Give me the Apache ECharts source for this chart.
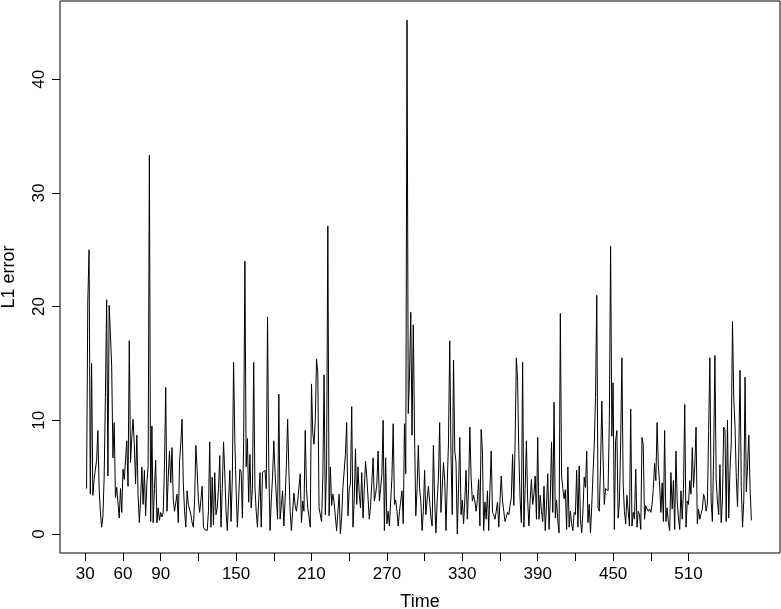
<!DOCTYPE html>
<html>
<head>
<meta charset="utf-8">
<script src="https://cdn.jsdelivr.net/npm/echarts@6/dist/echarts.min.js"></script>
<style>
html,body{margin:0;padding:0;background:#fff;}
#chart{width:781px;height:609px;}
</style>
</head>
<body>
<div id="chart"></div>
<script>
// first time index of the series
var startTime = 31;
// L1 error values for times 31..560
var l1Error = [
 4.0, 20.5, 25.0, 3.5, 15.0, 3.4, 4.8, 4.7, 6.5, 9.1,
 4.0, 2.0, 0.6, 1.5, 5.0, 12.0, 20.6, 5.1, 20.1, 17.5,
 14.7, 6.7, 9.8, 3.2, 4.1, 4.1, 1.4, 4.0, 1.9, 5.7,
 4.8, 6.5, 8.2, 4.2, 17.0, 6.3, 8.5, 10.1, 7.9, 4.4,
 8.7, 3.5, 1.0, 3.0, 5.9, 2.6, 5.6, 1.6, 4.5, 6.0,
 33.3, 1.1, 9.5, 1.0, 4.0, 6.5, 1.0, 2.3, 1.2, 1.9,
 1.5, 1.9, 6.0, 12.9, 2.0, 5.0, 7.3, 4.5, 7.6, 3.0,
 2.0, 1.9, 3.5, 1.0, 6.4, 8.0, 10.1, 4.4, 2.0, 0.6,
 3.8, 2.6, 2.6, 1.7, 1.0, 0.6, 3.0, 7.8, 5.6, 3.0,
 1.9, 3.0, 4.2, 0.6, 0.4, 0.5, 0.3, 2.0, 8.1, 0.6,
 5.0, 0.8, 5.4, 1.7, 2.3, 4.0, 6.9, 0.6, 4.0, 8.1,
 5.3, 2.0, 0.3, 3.0, 5.6, 1.1, 5.0, 15.1, 8.2, 4.0,
 0.6, 3.0, 5.7, 5.5, 1.4, 8.0, 24.0, 5.9, 8.4, 2.8,
 7.0, 2.3, 4.0, 15.1, 4.1, 2.0, 0.6, 3.0, 5.4, 0.6,
 5.4, 5.5, 5.6, 4.0, 19.1, 6.0, 0.3, 3.0, 5.0, 8.2,
 5.4, 5.3, 1.3, 12.3, 1.3, 2.5, 3.8, 0.7, 3.0, 6.0,
 10.1, 5.6, 2.0, 0.3, 2.0, 3.6, 2.5, 2.0, 2.9, 2.9,
 5.3, 1.0, 2.9, 2.0, 9.1, 4.0, 2.3, 1.5, 0.6, 13.2,
 8.9, 7.9, 10.0, 15.4, 14.2, 2.3, 2.2, 1.1, 5.0, 14.0,
 1.7, 6.0, 27.1, 1.6, 5.9, 2.5, 3.5, 2.8, 1.5, 0.3,
 2.0, 3.5, 0.0, 1.5, 4.1, 4.2, 7.0, 9.8, 1.6, 3.9,
 4.5, 11.2, 0.6, 3.0, 7.5, 2.6, 5.9, 3.5, 2.3, 5.4,
 1.4, 4.0, 6.4, 5.0, 5.0, 1.3, 2.5, 4.5, 6.7, 2.9,
 3.5, 4.4, 7.3, 2.9, 4.0, 5.3, 10.0, 0.3, 6.7, 0.9,
 2.0, 0.7, 2.9, 5.0, 9.7, 2.6, 3.0, 2.0, 0.7, 2.0,
 2.9, 3.8, 0.9, 9.7, 5.3, 45.2, 10.6, 14.0, 19.5, 8.7,
 18.4, 8.8, 1.6, 4.0, 7.8, 4.0, 2.9, 0.3, 2.0, 5.6,
 1.7, 3.0, 4.2, 2.9, 1.5, 0.7, 7.8, 3.0, 0.1, 2.9,
 5.0, 9.8, 1.9, 4.0, 6.3, 4.7, 0.3, 4.4, 8.0, 17.0,
 7.0, 1.7, 15.3, 7.3, 6.3, 0.0, 4.0, 8.5, 1.7, 3.0,
 0.9, 3.0, 5.6, 1.3, 4.0, 9.4, 5.0, 2.9, 3.4, 2.9,
 2.0, 3.0, 4.8, 0.7, 9.2, 7.3, 0.3, 2.8, 1.3, 3.8,
 0.3, 4.0, 7.3, 1.9, 1.7, 1.3, 2.0, 2.8, 0.6, 3.0,
 5.1, 2.9, 2.0, 1.1, 1.5, 1.9, 1.7, 2.5, 3.2, 7.0,
 2.5, 8.0, 15.5, 13.5, 7.0, 3.0, 1.0, 15.1, 0.6, 4.0,
 8.2, 3.0, 0.7, 3.0, 4.8, 2.6, 3.5, 5.1, 1.3, 8.5,
 1.3, 3.4, 2.0, 1.1, 4.2, 0.3, 2.5, 5.3, 0.4, 3.0,
 8.1, 1.9, 11.6, 1.4, 3.0, 1.1, 0.1, 19.4, 5.1, 4.0,
 3.1, 3.9, 0.4, 5.9, 0.6, 2.0, 0.9, 0.3, 1.9, 1.7,
 5.6, 0.6, 6.0, 1.3, 0.1, 2.0, 5.0, 4.1, 7.3, 1.0,
 2.6, 0.1, 2.5, 5.3, 7.9, 12.0, 21.0, 2.3, 2.0, 6.0,
 11.7, 6.7, 2.6, 4.0, 3.9, 3.8, 10.0, 25.3, 8.6, 13.3,
 0.4, 8.2, 9.1, 1.4, 2.8, 8.0, 15.5, 4.4, 2.0, 0.9,
 3.4, 3.4, 0.7, 11.0, 0.7, 1.9, 1.3, 5.7, 0.6, 2.0,
 1.7, 0.4, 8.5, 7.8, 1.3, 2.5, 2.2, 2.0, 2.2, 1.9,
 2.6, 4.0, 6.2, 4.7, 9.8, 6.0, 4.4, 1.9, 4.5, 1.1,
 9.1, 1.1, 2.3, 1.0, 0.3, 5.4, 2.2, 4.7, 0.4, 7.3,
 2.9, 1.4, 0.4, 3.8, 1.3, 4.0, 11.4, 0.6, 2.9, 2.6,
 4.7, 3.5, 7.6, 4.1, 6.0, 9.4, 0.9, 2.2, 1.3, 1.8,
 2.2, 3.5, 3.1, 2.0, 2.6, 9.0, 15.5, 2.9, 1.1, 7.0,
 15.7, 4.8, 2.9, 1.7, 6.1, 1.0, 3.0, 9.4, 9.2, 1.1,
 10.0, 1.4, 5.6, 8.0, 18.7, 12.0, 9.5, 5.0, 2.4, 7.0,
 14.4, 4.1, 0.6, 3.0, 13.8, 3.7, 6.0, 8.7, 4.0, 1.2
];
// axis ticks and labels
var xTickValues = [30, 60, 90, 120, 150, 180, 210, 240, 270, 300, 330, 360, 390, 420, 450, 480, 510];
var xLabelValues = [30, 60, 90, 150, 210, 270, 330, 390, 450, 510];
var yTickValues = [0, 10, 20, 30, 40];
var xTitle = 'Time';
var yTitle = 'L1 error';

var seriesData = l1Error.map(function (v, i) { return [startTime + i, v]; });

var font = 'Liberation Sans, Arial, Helvetica, sans-serif';
var chart = echarts.init(document.getElementById('chart'), null, {renderer: 'canvas'});
chart.setOption({
  animation: false,
  backgroundColor: '#fff',
  grid: {
    left: 60, right: 1, top: 1, bottom: 56,
    containLabel: false, outerBoundsMode: 'none',
    show: true, borderColor: '#000', borderWidth: 1, backgroundColor: 'transparent'
  },
  xAxis: {
    type: 'value',
    min: 9.87, max: 582.8,
    name: xTitle, nameLocation: 'middle', nameGap: 40,
    nameTextStyle: {fontFamily: font, fontSize: 18, color: '#000'},
    axisLine: {show: false, onZero: false},
    axisTick: {show: true, inside: false, length: 8, customValues: xTickValues, lineStyle: {color: '#000'}},
    axisLabel: {customValues: xLabelValues, margin: 13, fontFamily: font, fontSize: 17, color: '#000'},
    splitLine: {show: false}
  },
  yAxis: {
    type: 'value',
    min: -1.67, max: 46.88,
    name: yTitle, nameLocation: 'middle', nameGap: 42, nameRotate: 90,
    nameTextStyle: {fontFamily: font, fontSize: 18, color: '#000'},
    axisLine: {show: false, onZero: false},
    axisTick: {show: true, inside: false, length: 8, customValues: yTickValues, lineStyle: {color: '#000'}},
    axisLabel: {customValues: yTickValues, rotate: 90, margin: 12, fontFamily: font, fontSize: 17, color: '#000'},
    splitLine: {show: false}
  },
  series: [{
    type: 'line',
    data: seriesData,
    symbol: 'none',
    lineStyle: {color: '#000', width: 1},
    emphasis: {disabled: true}
  }]
});
</script>
</body>
</html>
